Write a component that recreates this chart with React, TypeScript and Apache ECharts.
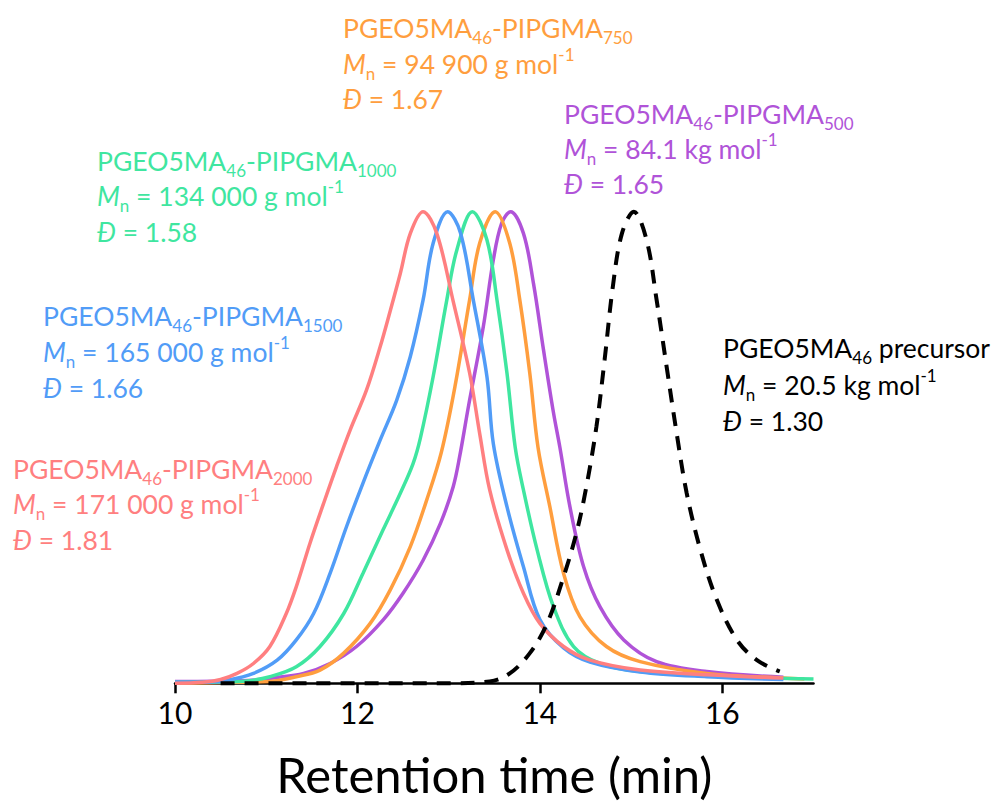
import React, { useEffect, useRef } from 'react';
import * as echarts from 'echarts';

// ---- data (retention time in min, normalised RI signal) ----
const xTicks = [10, 12, 14, 16];

const p2000X = [10.0, 10.3, 10.5, 10.68, 10.86, 11.04, 11.22, 11.33, 11.48, 11.63, 11.77, 11.92, 12.1, 12.25, 12.36, 12.47, 12.58, 12.72, 12.87, 13.05, 13.23, 13.34, 13.45, 13.64, 13.82, 14.0, 14.26, 14.55, 15.1, 15.83, 16.67];
const p2000Y = [0.0, 0.002, 0.008, 0.021, 0.042, 0.078, 0.148, 0.205, 0.297, 0.382, 0.459, 0.537, 0.622, 0.714, 0.79, 0.869, 0.954, 1.0, 0.954, 0.81, 0.658, 0.53, 0.41, 0.283, 0.191, 0.127, 0.078, 0.049, 0.028, 0.018, 0.011];

const p1500X = [10.0, 10.4, 10.57, 10.86, 11.12, 11.33, 11.52, 11.7, 11.88, 12.06, 12.25, 12.43, 12.58, 12.72, 12.83, 12.99, 13.13, 13.27, 13.42, 13.49, 13.64, 13.82, 14.0, 14.26, 14.55, 15.1, 15.83, 16.67];
const p1500Y = [0.002, 0.003, 0.006, 0.021, 0.049, 0.092, 0.148, 0.233, 0.332, 0.424, 0.516, 0.6, 0.693, 0.813, 0.933, 1.0, 0.955, 0.813, 0.65, 0.508, 0.374, 0.247, 0.135, 0.075, 0.045, 0.024, 0.014, 0.008];

const p1000X = [10.0, 10.5, 10.79, 11.04, 11.33, 11.59, 11.85, 12.06, 12.28, 12.47, 12.61, 12.69, 12.83, 12.98, 13.09, 13.26, 13.42, 13.53, 13.64, 13.73, 13.82, 13.97, 14.15, 14.37, 14.66, 15.1, 15.83, 16.5, 17.0];
const p1000Y = [0.002, 0.003, 0.005, 0.014, 0.035, 0.078, 0.148, 0.233, 0.325, 0.403, 0.466, 0.52, 0.65, 0.813, 0.919, 1.0, 0.94, 0.813, 0.657, 0.5, 0.41, 0.283, 0.162, 0.078, 0.042, 0.025, 0.016, 0.011, 0.009];

const p750X = [10.0, 10.6, 11.04, 11.33, 11.59, 11.85, 12.14, 12.36, 12.58, 12.76, 12.92, 13.07, 13.23, 13.34, 13.51, 13.67, 13.78, 13.89, 13.98, 14.11, 14.26, 14.44, 14.73, 15.1, 15.83, 16.67, 16.9];
const p750Y = [0.0, 0.002, 0.004, 0.014, 0.028, 0.064, 0.127, 0.198, 0.29, 0.389, 0.49, 0.63, 0.813, 0.933, 1.0, 0.933, 0.813, 0.657, 0.5, 0.374, 0.233, 0.141, 0.078, 0.046, 0.021, 0.011, 0.009];

const p500X = [10.0, 10.8, 11.1, 11.41, 11.7, 11.99, 12.28, 12.5, 12.72, 12.91, 13.05, 13.12, 13.22, 13.38, 13.49, 13.58, 13.68, 13.82, 13.93, 14.04, 14.15, 14.22, 14.33, 14.48, 14.66, 14.92, 15.28, 15.83, 16.67];
const p500Y = [0.004, 0.006, 0.012, 0.021, 0.042, 0.078, 0.134, 0.191, 0.261, 0.339, 0.417, 0.48, 0.59, 0.756, 0.898, 0.975, 1.0, 0.954, 0.848, 0.707, 0.573, 0.5, 0.374, 0.247, 0.162, 0.092, 0.046, 0.025, 0.013];

const precX = [10.5, 13.0, 13.45, 13.67, 13.89, 14.08, 14.26, 14.4, 14.51, 14.62, 14.71, 14.8, 14.9, 15.03, 15.17, 15.28, 15.39, 15.5, 15.61, 15.76, 15.94, 16.16, 16.38, 16.63];
const precY = [0.0, 0.0, 0.004, 0.021, 0.064, 0.127, 0.226, 0.318, 0.417, 0.544, 0.686, 0.841, 0.954, 1.0, 0.94, 0.813, 0.671, 0.53, 0.403, 0.283, 0.177, 0.092, 0.049, 0.025];

const RED = '#FF7F80';
const BLUE = '#519CF7';
const GREEN = '#3FE6A0';
const ORANGE = '#FF9E3E';
const PURPLE = '#B053D8';
const BLACK = '#000000';

// annotation lines
const annotations = [
  { color: ORANGE, x: 343, y: [28, 64, 99], lines: ['{m|PGEO5MA}{s|46}{m|-PIPGMA}{s|750}', '{i|M}{s|n}{m| = 94 900 g mol}{p|-1}', '{i|Đ}{m| = 1.67}'] },
  { color: PURPLE, x: 564, y: [114, 149, 184], lines: ['{m|PGEO5MA}{s|46}{m|-PIPGMA}{s|500}', '{i|M}{s|n}{m| = 84.1 kg mol}{p|-1}', '{i|Đ}{m| = 1.65}'] },
  { color: GREEN, x: 97, y: [161, 196, 232], lines: ['{m|PGEO5MA}{s|46}{m|-PIPGMA}{s|1000}', '{i|M}{s|n}{m| = 134 000 g mol}{p|-1}', '{i|Đ}{m| = 1.58}'] },
  { color: BLUE, x: 43, y: [316, 352, 388], lines: ['{m|PGEO5MA}{s|46}{m|-PIPGMA}{s|1500}', '{i|M}{s|n}{m| = 165 000 g mol}{p|-1}', '{i|Đ}{m| = 1.66}'] },
  { color: RED, x: 13, y: [469, 504, 540], lines: ['{m|PGEO5MA}{s|46}{m|-PIPGMA}{s|2000}', '{i|M}{s|n}{m| = 171 000 g mol}{p|-1}', '{i|Đ}{m| = 1.81}'] },
  { color: BLACK, x: 723, y: [348, 385, 421], lines: ['{m|PGEO5MA}{s|46}{m| precursor}', '{i|M}{s|n}{m| = 20.5 kg mol}{p|-1}', '{i|Đ}{m| = 1.30}'] },
];

const FONT = 'Lato, "Open Sans", sans-serif';

function pairs(xs: number[], ys: number[]) {
  return xs.map((x, i) => [x, ys[i]]);
}

export default function App() {
  const ref = useRef<HTMLDivElement>(null);
  useEffect(() => {
    if (!ref.current) return;
    const chart = echarts.init(ref.current, undefined, { renderer: 'svg' });

    const mk = (name: string, xs: number[], ys: number[], color: string, dashed = false) => ({
      name,
      type: 'line',
      data: pairs(xs, ys),
      smooth: 0.35,
      showSymbol: false,
      clip: false,
      lineStyle: { color, width: dashed ? 4 : 3.5, type: dashed ? [14, 10] : 'solid', cap: 'butt' },
      emphasis: { disabled: true },
    });

    const graphics: any[] = [];
    annotations.forEach((a) => {
      const rich = {
        m: { fontFamily: FONT, fontSize: 26.5, lineHeight: 36, fill: a.color },
        i: { fontFamily: FONT, fontSize: 26.5, lineHeight: 36, fontStyle: 'italic', fill: a.color },
        s: { fontFamily: FONT, fontSize: 17, lineHeight: 20, verticalAlign: 'bottom', fill: a.color },
        p: { fontFamily: FONT, fontSize: 17, lineHeight: 20, verticalAlign: 'top', fill: a.color },
      };
      a.lines.forEach((t, k) => {
        graphics.push({
          type: 'text',
          x: a.x,
          y: a.y[k],
          style: { text: t, rich, fill: a.color, fontFamily: FONT, fontSize: 26.5, align: 'left', verticalAlign: 'middle' },
        });
      });
    });

    chart.setOption({
      animation: false,
      grid: { left: 175, right: 183.5, top: 211.7, bottom: 123.7, containLabel: false },
      xAxis: {
        type: 'value',
        min: 10,
        max: 17,
        interval: 2,
        axisLine: { show: true, onZero: false, lineStyle: { color: '#000', width: 2.5 } },
        axisTick: { show: true, inside: false, length: 10, lineStyle: { color: '#000', width: 2.5 }, customValues: xTicks },
        axisLabel: { color: '#000', fontSize: 30, fontFamily: FONT, margin: 14, customValues: xTicks },
        splitLine: { show: false },
        name: 'Retention time (min)',
        nameLocation: 'middle',
        nameGap: 66,
        nameTextStyle: { color: '#000', fontSize: 49, fontFamily: FONT },
      },
      yAxis: { type: 'value', min: 0, max: 1, show: false },
      series: [
        mk('PIPGMA500', p500X, p500Y, PURPLE),
        mk('PIPGMA750', p750X, p750Y, ORANGE),
        mk('PIPGMA1000', p1000X, p1000Y, GREEN),
        mk('PIPGMA1500', p1500X, p1500Y, BLUE),
        mk('PIPGMA2000', p2000X, p2000Y, RED),
        mk('precursor', precX, precY, BLACK, true),
      ],
      graphic: graphics,
    });
    return () => chart.dispose();
  }, []);
  return <div ref={ref} style={{ width: 997, height: 807, position: 'absolute', left: 0, top: 0, background: '#fff' }} />;
}
